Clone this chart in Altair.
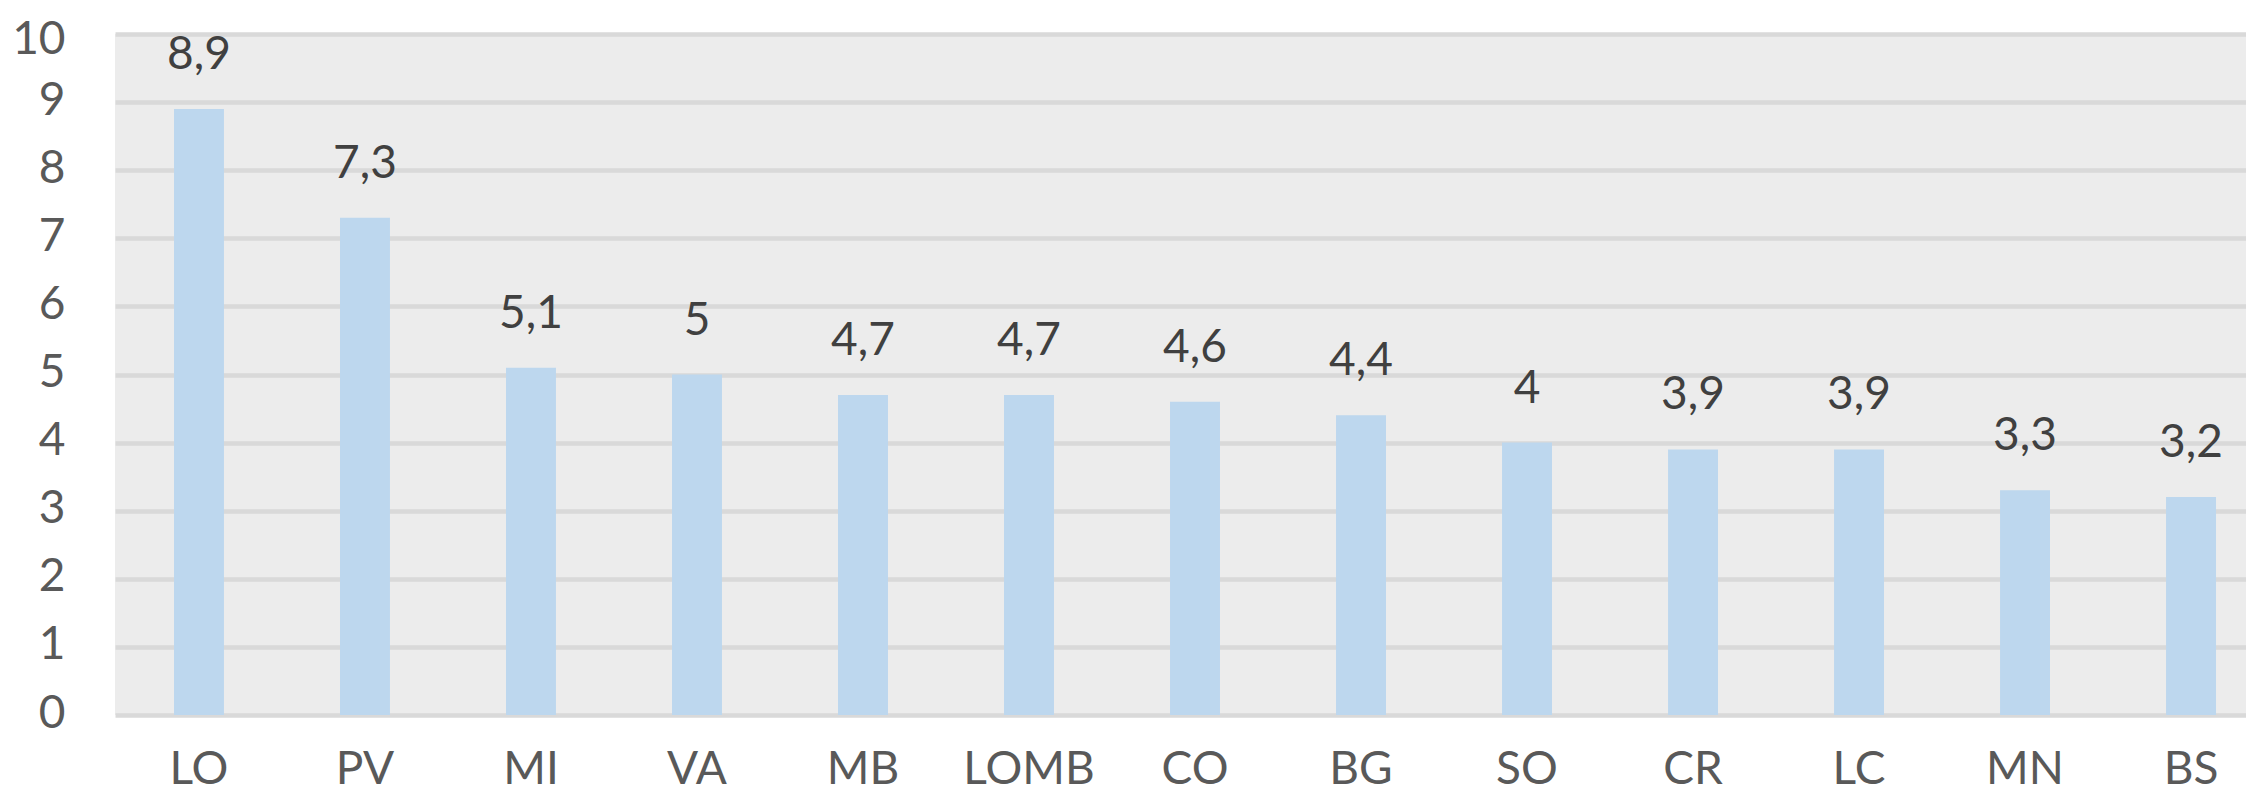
import altair as alt
import pandas as pd

categories = ["LO", "PV", "MI", "VA", "MB", "LOMB", "CO", "BG", "SO", "CR", "LC", "MN", "BS"]
values = [8.9, 7.3, 5.1, 5.0, 4.7, 4.7, 4.6, 4.4, 4.0, 3.9, 3.9, 3.3, 3.2]
y_ticks = [0, 1, 2, 3, 4, 5, 6, 7, 8, 9, 10]


def fmt(v):
    s = ("%.1f" % v).rstrip("0").rstrip(".")
    return s.replace(".", ",")


df = pd.DataFrame({"cat": categories, "val": values, "label": [fmt(v) for v in values]})

FONT = "Lato"
FS = 46

x_enc = alt.X(
    "cat:N",
    sort=categories,
    title=None,
    scale=alt.Scale(paddingInner=0.699, paddingOuter=0.268, align=0.663),
    axis=alt.Axis(
        labelAngle=0,
        labelFont=FONT,
        labelFontSize=FS,
        labelColor="#595959",
        labelBaseline="alphabetic",
        labelPadding=68,
        ticks=False,
        domain=False,
        grid=False,
    ),
)
y_enc = alt.Y(
    "val:Q",
    title=None,
    scale=alt.Scale(domain=[0, 10], nice=False),
    axis=alt.Axis(
        values=y_ticks,
        format="d",
        labelFont=FONT,
        labelFontSize=FS,
        labelColor="#595959",
        labelBaseline="alphabetic",
        labelOffset={"condition": {"test": "datum.value == 10", "value": 19}, "value": 12},
        labelPadding=50,
        ticks=False,
        domain=False,
        grid=True,
        gridColor="#d9d9d9",
        gridWidth=4.5,
    ),
)

bars = alt.Chart(df).mark_bar(color="#bdd7ee").encode(x=x_enc, y=y_enc)
text = alt.Chart(df).mark_text(
    font=FONT, fontSize=FS, color="#404040", baseline="alphabetic", dy=-40
).encode(x=alt.X("cat:N", sort=categories), y="val:Q", text="label:N")

chart = (
    alt.layer(bars, text)
    .properties(
        width=2131,
        height=681,
        padding={"left": 107, "top": 26, "right": 0, "bottom": 78},
        autosize=alt.AutoSizeParams(type="none"),
        background="white",
    )
    .configure_view(fill="#ececec", stroke=None)
)

chart.save("out.html", embed_options={"renderer": "svg", "actions": False})
